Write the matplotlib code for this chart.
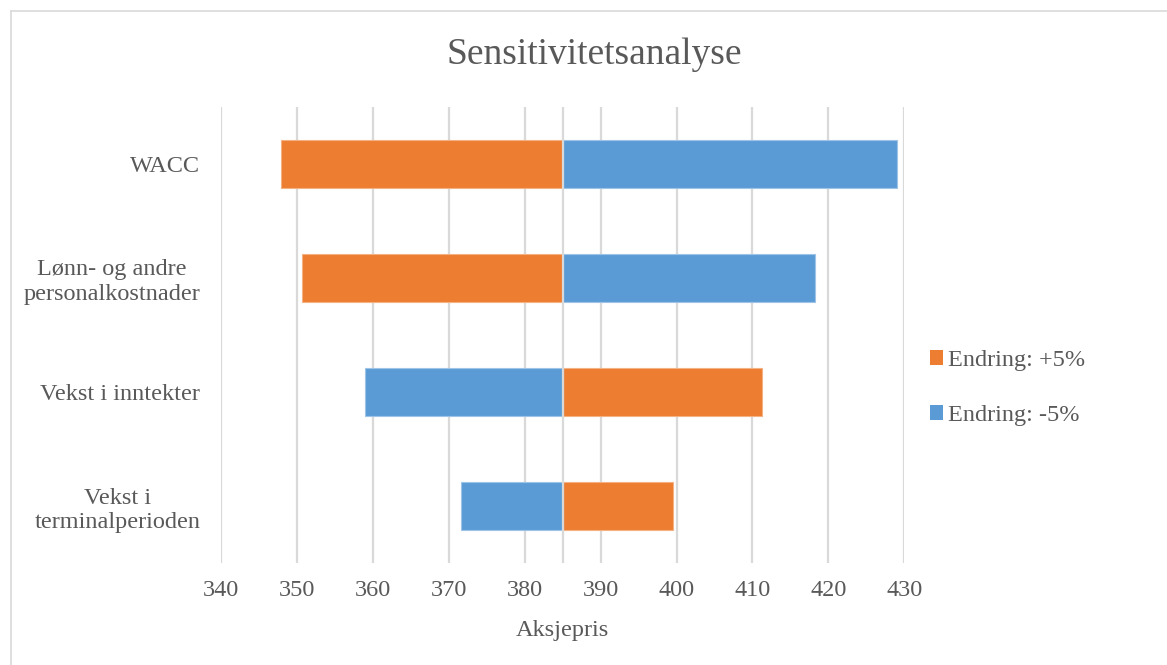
import matplotlib
matplotlib.use("Agg")
import matplotlib.pyplot as plt
from matplotlib.patches import Patch
from matplotlib.lines import Line2D

plt.rcParams['font.family'] = ['Liberation Serif', 'DejaVu Serif']

# share price in each scenario, base case 385
base = 385
categories = ["WACC", "Lønn- og andre\npersonalkostnader", "Vekst i inntekter", "Vekst i\nterminalperioden"]
plus5 = [347.9, 350.6, 411.3, 399.5]    # Endring: +5%
minus5 = [429.0, 418.3, 359.0, 371.6]   # Endring: -5%
xticks = [340, 350, 360, 370, 380, 390, 400, 410, 420, 430]

orange = '#ED7D31'
blue = '#5B9BD5'
grey_text = '#595959'
grid_col = '#D9D9D9'

fig = plt.figure(figsize=(11.67, 6.65), dpi=100)
ax = fig.add_axes([221.2 / 1167, 1 - 563 / 665, (904.3 - 221.2) / 1167, (563 - 107) / 665])

ypos = list(range(len(categories)))
ax.barh(ypos, [v - base for v in plus5], left=base, height=0.42,
        color=orange, edgecolor='#F4B183', linewidth=0.8, zorder=3)
ax.barh(ypos, [v - base for v in minus5], left=base, height=0.42,
        color=blue, edgecolor='#9DC3E6', linewidth=0.8, zorder=3)

ax.set_xlim(340, 430)
ax.set_ylim(3.5, -0.5)
ax.set_xticks(xticks)
ax.set_yticks(ypos)
ax.set_yticklabels(categories, multialignment='center')
ax.tick_params(axis='y', length=0, pad=15, labelsize=17.5, labelcolor=grey_text)
ax.tick_params(axis='x', length=0, pad=12, labelsize=17.5, labelcolor=grey_text)
ax.xaxis.grid(True, color=grid_col, linewidth=1.6, zorder=0)
ax.set_axisbelow(True)
for s in ax.spines.values():
    s.set_visible(False)

# vertical axis crosses at the base value
ax.axvline(base, color=grid_col, linewidth=1.6, zorder=4)

ax.set_xlabel("Aksjepris", fontsize=17.5, color=grey_text, labelpad=14)

fig.text(594 / 1167, 1 - 55 / 665, "Sensitivitetsanalyse", fontsize=27,
         color=grey_text, ha='center', va='center')

handles = [Patch(facecolor=orange, edgecolor='none'), Patch(facecolor=blue, edgecolor='none')]
fig.legend(handles, ["Endring: +5%", "Endring: -5%"], loc='center left',
           bbox_to_anchor=(930 / 1167, 1 - 388 / 665), frameon=False,
           fontsize=17.5, labelcolor=grey_text, handlelength=0.55, handleheight=0.55,
           handletextpad=0.2, labelspacing=1.4, borderpad=0, borderaxespad=0)

# chart area border
fig.add_artist(Line2D([11 / 1167, 11 / 1167], [0, 1 - 11 / 665], transform=fig.transFigure,
                      color=grid_col, linewidth=1.2))
fig.add_artist(Line2D([11 / 1167, 1], [1 - 11 / 665, 1 - 11 / 665], transform=fig.transFigure,
                      color=grid_col, linewidth=1.2))

fig.savefig("out.png", dpi=100, facecolor='white')
